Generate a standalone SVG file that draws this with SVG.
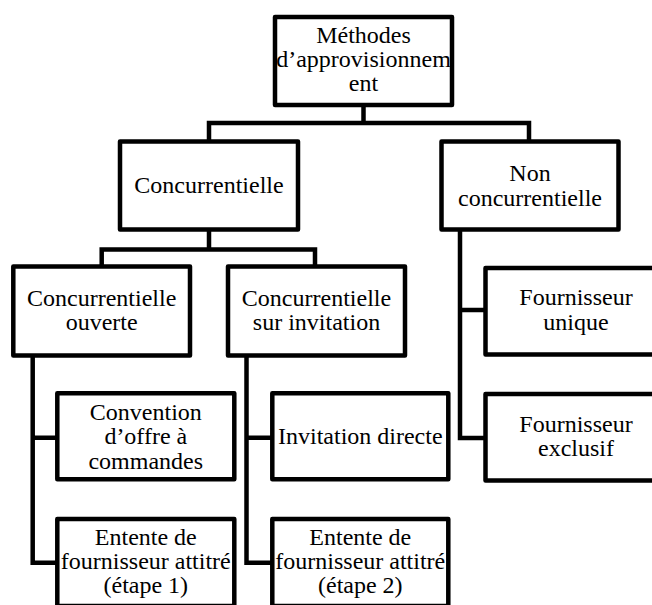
<svg xmlns="http://www.w3.org/2000/svg" width="652" height="605" viewBox="0 0 652 605">
<style>
.box{fill:#fff;stroke:#000;stroke-width:4.5;stroke-linejoin:round}
.con{fill:none;stroke:#000;stroke-width:4.5;stroke-linejoin:miter;stroke-linecap:square}
.t{font-family:'Liberation Serif',Tinos,'DejaVu Serif','Times New Roman',serif;font-size:24px;fill:#000;text-anchor:middle}
</style>
<rect width="652" height="605" fill="#fff"/>
<g id="connectors">
<path class="con" d="M363.5,105 V123 M209,141.5 V123 H529 V141.5"/>
<path class="con" d="M209,229.5 V249.5 M101.7,266.5 V249.5 H315 V266.5"/>
<path class="con" d="M32.7,355.5 V562.7 H57.3 M32.7,437.7 H57.3"/>
<path class="con" d="M246.5,355.5 V562.7 H272.3 M246.5,437.7 H272.3"/>
<path class="con" d="M460,229.5 V438 H485.5 M460,310 H485.5"/>
</g>
<g class="t" font-family="Liberation Serif, serif">
<g id="root">
<rect class="box" x="275" y="17" width="177" height="88"/>
<text x="363.5" y="43">Méthodes</text>
<text x="363.5" y="67">d’approvisionnem</text>
<text x="363.5" y="91">ent</text>
</g>
<g id="concurrentielle">
<rect class="box" x="120" y="141.5" width="178" height="88"/>
<text x="209" y="193">Concurrentielle</text>
</g>
<g id="non-concurrentielle">
<rect class="box" x="441.5" y="141.5" width="177" height="88"/>
<text x="530" y="181">Non</text>
<text x="530" y="206">concurrentielle</text>
</g>
<g id="ouverte">
<rect class="box" x="13.3" y="266.5" width="176.7" height="89"/>
<text x="101.7" y="306">Concurrentielle</text>
<text x="101.7" y="330">ouverte</text>
</g>
<g id="invitation">
<rect class="box" x="228" y="266.5" width="177" height="89"/>
<text x="316.5" y="306">Concurrentielle</text>
<text x="316.5" y="330">sur invitation</text>
</g>
<g id="convention">
<rect class="box" x="57.3" y="393.3" width="177" height="86"/>
<text x="145.8" y="420">Convention</text>
<text x="145.8" y="444">d’offre à</text>
<text x="145.8" y="469">commandes</text>
</g>
<g id="entente1">
<rect class="box" x="57.3" y="519" width="177" height="87"/>
<text x="145.8" y="545">Entente de</text>
<text x="145.8" y="569">fournisseur attitré</text>
<text x="145.8" y="593">(étape 1)</text>
</g>
<g id="invitation-directe">
<rect class="box" x="272.3" y="393.3" width="176" height="86"/>
<text x="360.3" y="444.3">Invitation directe</text>
</g>
<g id="entente2">
<rect class="box" x="272.3" y="519" width="176" height="87"/>
<text x="360.3" y="545">Entente de</text>
<text x="360.3" y="569">fournisseur attitré</text>
<text x="360.3" y="593">(étape 2)</text>
</g>
<g id="fournisseur-unique">
<rect class="box" x="485.5" y="268" width="182" height="86.5"/>
<text x="576" y="305">Fournisseur</text>
<text x="576" y="330">unique</text>
</g>
<g id="fournisseur-exclusif">
<rect class="box" x="485.5" y="394" width="182" height="86.5"/>
<text x="576" y="431.7">Fournisseur</text>
<text x="576" y="456">exclusif</text>
</g>
</g>
</svg>
